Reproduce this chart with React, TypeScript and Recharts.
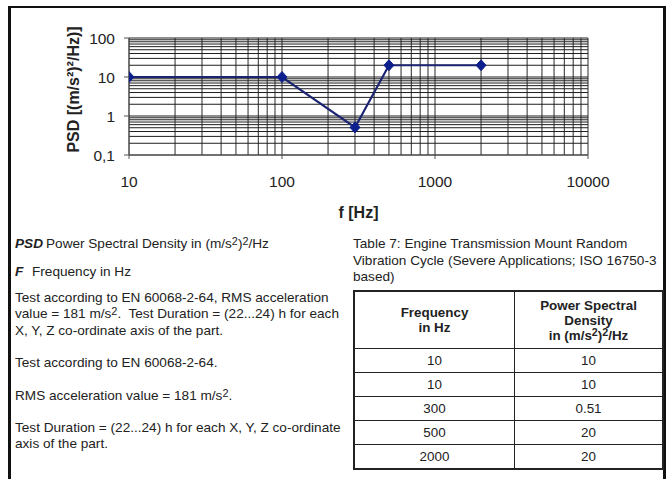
import React from "react";
import { LineChart, Line, XAxis, YAxis, ReferenceLine, Label } from "recharts";

const frequencies = [10, 100, 300, 500, 2000];
const psdValues = [10, 10, 0.51, 20, 20];
const xTicks = [10, 100, 1000, 10000];
const yTicks = [0.1, 1, 10, 100];
const xGrid = [10, 20, 30, 40, 50, 60, 70, 80, 90, 100, 200, 300, 400, 500, 600, 700, 800, 900, 1000, 2000, 3000, 4000, 5000, 6000, 7000, 8000, 9000, 10000];
const yGrid = [0.1, 0.2, 0.3, 0.4, 0.5, 0.6, 0.7, 0.8, 0.9, 1, 2, 3, 4, 5, 6, 7, 8, 9, 10, 20, 30, 40, 50, 60, 70, 80, 90, 100];

const tableFreq = ["10", "10", "300", "500", "2000"];
const tablePsd = ["10", "10", "0.51", "20", "20"];

const data = frequencies.map((f, i) => ({ f, psd: psdValues[i] }));

const FONT = "'Liberation Sans', Arial, Helvetica, sans-serif";

const Diamond = (props: any) => {
  const { cx, cy } = props;
  if (cx == null || cy == null) return null;
  const w = 5;
  const h = 5.5;
  return (
    <polygon
      points={`${cx},${cy - h} ${cx + w},${cy} ${cx},${cy + h} ${cx - w},${cy}`}
      fill="#0d1f8c"
      stroke="#0d1f8c"
    />
  );
};

const fmtY = (v: number) => (v < 1 ? String(v).replace(".", ",") : String(v));

const textStyle: React.CSSProperties = {
  position: "absolute",
  fontFamily: FONT,
  fontSize: 13.6,
  color: "#222",
  whiteSpace: "nowrap",
  lineHeight: "16.3px",
};

const Sup = ({ children }: { children: React.ReactNode }) => (
  <span style={{ fontSize: "0.8em", position: "relative", top: "-0.3em", lineHeight: 0 }}>{children}</span>
);

const cell: React.CSSProperties = {
  border: "1.5px solid #222",
  textAlign: "center",
  padding: 0,
  height: 23,
  fontSize: 13.4,
  color: "#222",
};

export default function App() {
  return (
    <div
      style={{
        position: "absolute",
        left: 0,
        top: 0,
        width: 667,
        height: 479,
        overflow: "hidden",
        background: "#fff",
        fontFamily: FONT,
      }}
    >
      <div
        style={{
          position: "absolute",
          left: 8,
          top: 6,
          width: 652,
          height: 500,
          borderTop: "2px solid #111",
          borderLeft: "3px solid #111",
          borderRight: "3px solid #111",
        }}
      />
      <div style={{ position: "absolute", left: 0, top: 0 }}>
        <LineChart width={667} height={230} data={data} margin={{ top: 38, right: 79, left: 0, bottom: 0 }}>
          <XAxis
            dataKey="f"
            type="number"
            scale="log"
            domain={[10, 10000]}
            ticks={xTicks}
            allowDataOverflow
            height={75}
            tickSize={4}
            tickMargin={17}
            stroke="#555"
            tick={{ fill: "#222", fontSize: 15.5, fontFamily: FONT }}
          >
            <Label
              content={(p: any) => {
                const vb = p.viewBox || {};
                return (
                  <text
                    x={vb.x + vb.width / 2}
                    y={vb.y + 57}
                    textAnchor="middle"
                    dominantBaseline="central"
                    fontFamily={FONT}
                    fontWeight="bold"
                    fontSize={16}
                    fill="#222"
                  >
                    f [Hz]
                  </text>
                );
              }}
            />
          </XAxis>
          <YAxis
            type="number"
            scale="log"
            domain={[0.1, 100]}
            ticks={yTicks}
            allowDataOverflow
            width={129}
            tickSize={5}
            tickMargin={9}
            tickFormatter={fmtY}
            stroke="#555"
            tick={{ fill: "#222", fontSize: 15.5, fontFamily: FONT }}
          >
            <Label
              content={(p: any) => {
                const vb = p.viewBox || {};
                const cx = vb.x + 73;
                const cy = vb.y + vb.height / 2 - 7;
                return (
                  <text
                    x={cx}
                    y={cy}
                    transform={`rotate(-90 ${cx} ${cy})`}
                    textAnchor="middle"
                    dominantBaseline="central"
                    fontFamily={FONT}
                    fontWeight="bold"
                    fontSize={16}
                    fill="#222"
                  >
                    PSD [(m/s²)²/Hz)]
                  </text>
                );
              }}
            />
          </YAxis>
          {xGrid.map((v) => (
            <ReferenceLine key={"x" + v} x={v} stroke="#2a2a2a" strokeWidth={1} />
          ))}
          {yGrid.map((v) => (
            <ReferenceLine key={"y" + v} y={v} stroke="#1e1e1e" strokeWidth={1} />
          ))}
          <Line
            dataKey="psd"
            stroke="#1b2470"
            strokeWidth={2.2}
            dot={<Diamond />}
            activeDot={false}
            isAnimationActive={false}
          />
        </LineChart>
      </div>

      <div style={{ ...textStyle, left: 15, top: 236 }}>
        <b><i>PSD</i></b>
        <span style={{ position: "absolute", left: 31 }}>
          Power Spectral Density in (m/s<Sup>2</Sup>)<Sup>2</Sup>/Hz
        </span>
      </div>
      <div style={{ ...textStyle, left: 15, top: 264 }}>
        <b><i>F</i></b>
        <span style={{ position: "absolute", left: 17 }}>Frequency in Hz</span>
      </div>
      <div style={{ ...textStyle, left: 15, top: 290 }}>
        Test according to EN 60068-2-64, RMS acceleration
        <br />
        value = 181 m/s<Sup>2</Sup>.&nbsp; Test Duration = (22...24) h for each
        <br />
        X, Y, Z co-ordinate axis of the part.
      </div>
      <div style={{ ...textStyle, left: 15, top: 355 }}>Test according to EN 60068-2-64.</div>
      <div style={{ ...textStyle, left: 15, top: 388 }}>
        RMS acceleration value = 181 m/s<Sup>2</Sup>.
      </div>
      <div style={{ ...textStyle, left: 15, top: 420 }}>
        Test Duration = (22...24) h for each X, Y, Z co-ordinate
        <br />
        axis of the part.
      </div>

      <div style={{ ...textStyle, left: 353, top: 236, lineHeight: "16.5px" }}>
        Table 7: Engine Transmission Mount Random
        <br />
        Vibration Cycle (Severe Applications; ISO 16750-3
        <br />
        based)
      </div>

      <table
        style={{
          position: "absolute",
          left: 353,
          top: 290,
          width: 311,
          borderCollapse: "collapse",
          fontFamily: FONT,
          border: "2px solid #222",
        }}
      >
        <tbody>
          <tr>
            <td style={{ ...cell, width: 159, height: 56, fontWeight: "bold", lineHeight: "15px" }}>
              Frequency
              <br />
              in Hz
            </td>
            <td style={{ ...cell, height: 56, fontWeight: "bold", lineHeight: "15px" }}>
              Power Spectral
              <br />
              Density
              <br />
              in (m/s<Sup>2</Sup>)<Sup>2</Sup>/Hz
            </td>
          </tr>
          {tableFreq.map((f, i) => (
            <tr key={i}>
              <td style={cell}>{f}</td>
              <td style={cell}>{tablePsd[i]}</td>
            </tr>
          ))}
        </tbody>
      </table>
    </div>
  );
}
